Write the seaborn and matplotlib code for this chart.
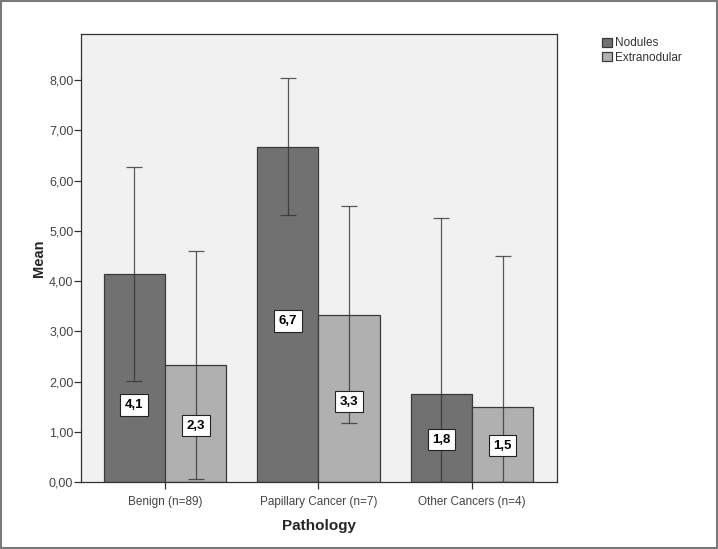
import numpy as np
import pandas as pd
import matplotlib.pyplot as plt
import seaborn as sns
from matplotlib.patches import Rectangle

categories = ["Benign (n=89)", "Papillary Cancer (n=7)", "Other Cancers (n=4)"]
groups = ["Nodules", "Extranodular"]
nodules_mean = [4.15, 6.68, 1.75]
extra_mean = [2.33, 3.33, 1.50]
nodules_hi = [6.28, 8.04, 5.25]
nodules_lo = [2.01, 5.31, 0.0]
extra_hi = [4.60, 5.49, 4.50]
extra_lo = [0.06, 1.17, 0.0]
nodules_lbl = ["4,1", "6,7", "1,8"]
extra_lbl = ["2,3", "3,3", "1,5"]

df = pd.DataFrame({
    "Pathology": categories * 2,
    "group": [groups[0]] * 3 + [groups[1]] * 3,
    "Mean": nodules_mean + extra_mean,
})

sns.set_style("white")
plt.rcParams['font.family'] = ['Liberation Sans', 'DejaVu Sans']

fig = plt.figure(figsize=(7.18, 5.49), dpi=100)
ax = fig.add_axes([0.1128, 0.122, 0.663, 0.816])
ax.set_facecolor("#f1f1f1")

sns.barplot(data=df, x="Pathology", y="Mean", hue="group", order=categories,
            hue_order=groups, palette=["#717171", "#b0b0b0"], errorbar=None,
            width=0.8, edgecolor="#3a3a3a", linewidth=0.9, ax=ax)

# error bars and value labels
his = [nodules_hi, extra_hi]
los = [nodules_lo, extra_lo]
lbls = [nodules_lbl, extra_lbl]
means = [nodules_mean, extra_mean]
bar_conts = list(ax.containers)
for k, cont in enumerate(bar_conts):
    xs = [p.get_x() + p.get_width() / 2 for p in cont.patches]
    m = np.array(means[k])
    yerr = [m - np.array(los[k]), np.array(his[k]) - m]
    ax.errorbar(xs, m, yerr=yerr, fmt="none", ecolor="#333333", elinewidth=0.9,
                capsize=5.5, capthick=0.9, alpha=0.8)
    for i, x in enumerate(xs):
        frac = 0.37 if (k == 0 and i == 0) else 0.48
        ax.text(x, m[i] * frac, lbls[k][i], ha="center", va="center",
                fontsize=9.5, fontweight="bold", color="black",
                bbox=dict(boxstyle="square,pad=0.35", fc="white", ec="#222222", lw=0.8))

ax.set_ylim(0, 8.92)
ax.set_xlim(-0.547, 2.554)
yt = np.arange(0, 9)
ax.set_yticks(yt)
ax.set_yticklabels([f"{v:.2f}".replace(".", ",") for v in yt])
ax.tick_params(axis="both", which="both", length=5, width=0.9, color="#333333",
               labelcolor="#444444", direction="out", left=True, bottom=True)
ax.tick_params(axis="y", labelsize=9, pad=0.5)
ax.tick_params(axis="x", labelsize=8.5, pad=5)
for s in ax.spines.values():
    s.set_color("#333333")
    s.set_linewidth(0.9)

ax.set_xlabel("Pathology", fontsize=11, fontweight="bold", labelpad=8)
ax.set_ylabel("Mean", fontsize=10.5, fontweight="bold", labelpad=2)

leg = ax.legend(loc="upper left", bbox_to_anchor=(1.094, 0.993), frameon=False,
                fontsize=8.5, handlelength=0.9, handleheight=0.8, handletextpad=0.2,
                labelspacing=0.2, borderaxespad=0, borderpad=0)
for t in leg.get_texts():
    t.set_color("#333333")

# figure outline
fig.patches.append(Rectangle((0.0015, 0.002), 0.997, 0.996, transform=fig.transFigure,
                             fill=False, ec="#7a7a7a", lw=1.5))

fig.savefig("out.png", dpi=100)
